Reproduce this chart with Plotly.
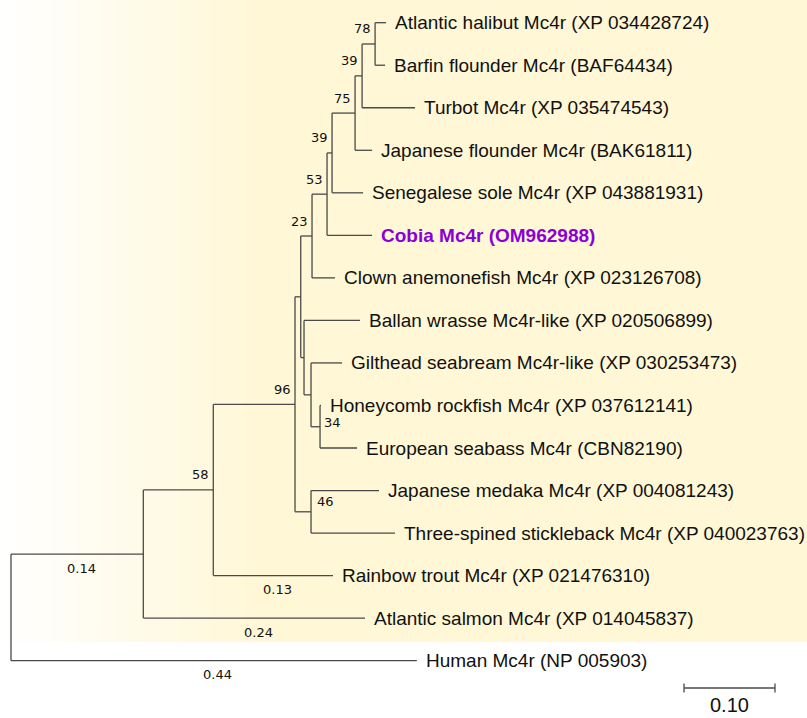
import plotly.graph_objects as go

# ---------------- data ----------------
leaf_names = [
    "Atlantic halibut Mc4r (XP 034428724)",
    "Barfin flounder Mc4r (BAF64434)",
    "Turbot Mc4r (XP 035474543)",
    "Japanese flounder Mc4r (BAK61811)",
    "Senegalese sole Mc4r (XP 043881931)",
    "Cobia Mc4r (OM962988)",
    "Clown anemonefish Mc4r (XP 023126708)",
    "Ballan wrasse Mc4r-like (XP 020506899)",
    "Gilthead seabream Mc4r-like (XP 030253473)",
    "Honeycomb rockfish Mc4r (XP 037612141)",
    "European seabass Mc4r (CBN82190)",
    "Japanese medaka Mc4r (XP 004081243)",
    "Three-spined stickleback Mc4r (XP 040023763)",
    "Rainbow trout Mc4r (XP 021476310)",
    "Atlantic salmon Mc4r (XP 014045837)",
    "Human Mc4r (NP 005903)",
]
leaf_parent = ["I", "I", "J", "K", "L", "M", "N", "F", "G", "H", "H", "D", "D", "B", "A", "root"]
leaf_branch = [0.0121, 0.0110, 0.0582, 0.0187, 0.0341, 0.0495, 0.0253, 0.0615,
               0.0341, 0.0011, 0.0407, 0.0747, 0.0923, 0.1315, 0.2436, 0.4460]

internal_nodes = ["A", "B", "C", "E", "N", "M", "L", "K", "J", "I", "F", "G", "H", "D"]
internal_parent = ["root", "A", "B", "C", "E", "N", "M", "L", "K", "J", "E", "F", "G", "C"]
internal_branch = [0.1454, 0.0769, 0.0898, 0.0063, 0.0124, 0.0165, 0.0055, 0.0253,
                   0.0077, 0.0143, 0.0036, 0.0077, 0.0099, 0.0176]
bootstrap = ["", "58", "96", "", "23", "53", "39", "75", "39", "78", "", "", "34", "46"]

length_label_nodes = ["A", "Atlantic salmon Mc4r (XP 014045837)",
                      "Rainbow trout Mc4r (XP 021476310)", "Human Mc4r (NP 005903)"]
length_labels = ["0.14", "0.24", "0.13", "0.44"]

highlight_leaf = "Cobia Mc4r (OM962988)"
scale_length = 0.10
scale_label = "0.10"

# ---------------- layout geometry (style) ----------------
W, H = 807, 718
ROOT_PX, PX_PER_UNIT = 11, 910
Y0_PX, ROW_PX = 22.7, 42.53
x_range = [-ROOT_PX / PX_PER_UNIT, (W - ROOT_PX) / PX_PER_UNIT]
y_range = [(H - Y0_PX) / ROW_PX, -Y0_PX / ROW_PX]

LINE_COLOR = "#4a4a4a"
TEXT_COLOR = "#111111"
LEAF_FONT = "Liberation Sans, Arial, sans-serif"
SMALL_FONT = "DejaVu Sans, Verdana, sans-serif"
SMALL_SIZE = 13

# ---------------- compute tree coordinates ----------------
parent = {"root": None}
branch = {"root": 0.0}
for n, p, b in zip(internal_nodes, internal_parent, internal_branch):
    parent[n], branch[n] = p, b
for n, p, b in zip(leaf_names, leaf_parent, leaf_branch):
    parent[n], branch[n] = p, b

xpos = {"root": 0.0}
for n in internal_nodes:
    xpos[n] = xpos[parent[n]] + branch[n]
for n in leaf_names:
    xpos[n] = xpos[parent[n]] + branch[n]

children = {}
for n, p in parent.items():
    if p is not None:
        children.setdefault(p, []).append(n)

ypos = {n: i for i, n in enumerate(leaf_names)}
for n in list(reversed(internal_nodes)) + ["root"]:
    ys = [ypos[c] for c in children[n]]
    ypos[n] = (min(ys) + max(ys)) / 2

lx, ly = [], []
for n, p in parent.items():
    if p is None:
        continue
    lx += [xpos[p], xpos[n], None]
    ly += [ypos[n], ypos[n], None]
for n in ["root"] + internal_nodes:
    ys = [ypos[c] for c in children[n]]
    lx += [xpos[n], xpos[n], None]
    ly += [min(ys), max(ys), None]

fig = go.Figure()
fig.add_trace(go.Scatter(x=lx, y=ly, mode="lines",
                         line=dict(color=LINE_COLOR, width=1.3),
                         hoverinfo="skip", showlegend=False))

# scale bar
sb_x0 = (684 - ROOT_PX) / PX_PER_UNIT
sb_y = (688 - Y0_PX) / ROW_PX
tick = 4.5 / ROW_PX
fig.add_trace(go.Scatter(
    x=[sb_x0, sb_x0 + scale_length, None, sb_x0, sb_x0, None, sb_x0 + scale_length, sb_x0 + scale_length],
    y=[sb_y, sb_y, None, sb_y - tick, sb_y + tick, None, sb_y - tick, sb_y + tick],
    mode="lines", line=dict(color=LINE_COLOR, width=1.3),
    hoverinfo="skip", showlegend=False))

annotations = []
# leaf labels
for n in leaf_names:
    hl = n == highlight_leaf
    annotations.append(dict(
        x=xpos[n], y=ypos[n], text=f"<b>{n}</b>" if hl else n,
        xanchor="left", yanchor="middle", xshift=7, showarrow=False,
        font=dict(family=LEAF_FONT, size=19, color="#8a00d6" if hl else TEXT_COLOR)))

# bootstrap labels
boot_style = {"H": dict(xanchor="left", xshift=2, yshift=4),
              "D": dict(xanchor="left", xshift=4, yshift=10)}
for n, b in zip(internal_nodes, bootstrap):
    if not b:
        continue
    st = boot_style.get(n, dict(xanchor="right", xshift=-2, yshift=15))
    annotations.append(dict(
        x=xpos[n], y=ypos[n], text=b, yanchor="middle", showarrow=False,
        font=dict(family=SMALL_FONT, size=SMALL_SIZE, color=TEXT_COLOR), **st))

# branch length labels
for n, t in zip(length_label_nodes, length_labels):
    annotations.append(dict(
        x=(xpos[n] + xpos[parent[n]]) / 2, y=ypos[n], text=t,
        xanchor="center", yanchor="middle", xshift=4, yshift=-14, showarrow=False,
        font=dict(family=SMALL_FONT, size=SMALL_SIZE, color=TEXT_COLOR)))

# scale label
annotations.append(dict(
    x=sb_x0 + scale_length / 2, y=sb_y, text=scale_label,
    xanchor="center", yanchor="middle", yshift=-17, showarrow=False,
    font=dict(family=LEAF_FONT, size=20, color=TEXT_COLOR)))

# background gradient (white -> pale yellow)
shapes = []
bg_bottom = 1 - 642 / H
grad_end = 260
steps = 52
c0, c1 = (255, 255, 255), (255, 247, 214)
for i in range(steps):
    t = (i + 0.5) / steps
    col = tuple(round(a + (b - a) * t) for a, b in zip(c0, c1))
    shapes.append(dict(type="rect", xref="paper", yref="paper",
                       x0=i * grad_end / steps / W, x1=((i + 1) * grad_end / steps + 0.8) / W,
                       y0=bg_bottom, y1=1, fillcolor="rgb(%d,%d,%d)" % col,
                       line=dict(width=0), layer="below"))
shapes.append(dict(type="rect", xref="paper", yref="paper",
                   x0=grad_end / W, x1=1, y0=bg_bottom, y1=1,
                   fillcolor="rgb(255,247,213)", line=dict(width=0), layer="below"))

fig.update_layout(
    width=W, height=H, margin=dict(l=0, r=0, t=0, b=0),
    paper_bgcolor="white", plot_bgcolor="rgba(0,0,0,0)",
    xaxis=dict(range=x_range, visible=False, fixedrange=True),
    yaxis=dict(range=y_range, visible=False, fixedrange=True),
    annotations=annotations, shapes=shapes, showlegend=False,
)

fig.write_html("out.html")
